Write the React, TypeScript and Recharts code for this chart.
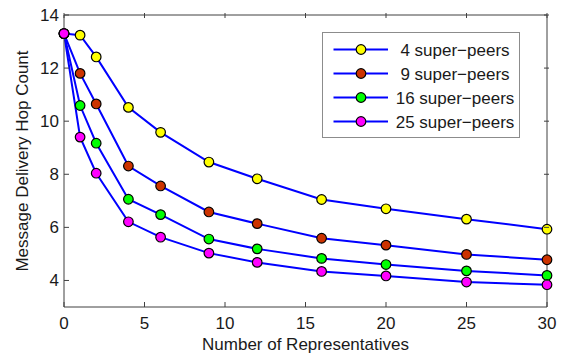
import React from 'react';
import { LineChart, Line, XAxis, YAxis, Label } from 'recharts';

// number of representatives (x)
const reps = [0, 1, 2, 4, 6, 9, 12, 16, 20, 25, 30];

// hop count per super-peer configuration
const peers4 = [13.3, 13.24, 12.42, 10.52, 9.58, 8.46, 7.83, 7.05, 6.7, 6.31, 5.93];
const peers9 = [13.3, 11.8, 10.65, 8.31, 7.56, 6.58, 6.14, 5.59, 5.33, 4.98, 4.78];
const peers16 = [13.3, 10.59, 9.17, 7.06, 6.48, 5.56, 5.19, 4.83, 4.6, 4.36, 4.19];
const peers25 = [13.3, 9.4, 8.04, 6.21, 5.63, 5.03, 4.68, 4.34, 4.17, 3.94, 3.84];

const seriesKeys = ['p4', 'p9', 'p16', 'p25'];
const seriesNames = ['4 super\u2212peers', '9 super\u2212peers', '16 super\u2212peers', '25 super\u2212peers'];
const markerColors = ['#ffff00', '#cc3300', '#00ff00', '#ff00ff'];

const xTicks = [0, 5, 10, 15, 20, 25, 30];
const yTicks = [4, 6, 8, 10, 12, 14];

const data = reps.map((r, i) => ({
  reps: r,
  p4: peers4[i],
  p9: peers9[i],
  p16: peers16[i],
  p25: peers25[i],
}));

const AXIS = '#404040';
const FONT = '"Liberation Sans", Arial, sans-serif';
const TEXT = '#1a1a1a';
const FS = 17;

const BottomTick = ({ x, y, payload }: any) => (
  <g>
    <line x1={x} x2={x} y1={y} y2={y - 5} stroke={AXIS} />
    <text x={x} y={y + 22} textAnchor="middle" fontSize={FS} fontFamily={FONT} fill={TEXT}>
      {payload.value}
    </text>
  </g>
);

const TopTick = ({ x, y }: any) => <line x1={x} x2={x} y1={y} y2={y + 5} stroke={AXIS} />;

const LeftTick = ({ x, y, payload }: any) => (
  <g>
    <line x1={x} x2={x + 5} y1={y} y2={y} stroke={AXIS} />
    <text x={x - 5} y={y + 6} textAnchor="end" fontSize={FS} fontFamily={FONT} fill={TEXT}>
      {payload.value}
    </text>
  </g>
);

const RightTick = ({ x, y }: any) => <line x1={x} x2={x - 5} y1={y} y2={y} stroke={AXIS} />;

const YTitle = ({ viewBox }: any) => {
  const { x, y, height } = viewBox;
  return (
    <text
      transform={`translate(${x + 22},${y + height / 2}) rotate(-90)`}
      textAnchor="middle"
      dominantBaseline="central"
      fontSize={FS}
      fontFamily={FONT}
      fill={TEXT}
    >
      Message Delivery Hop Count
    </text>
  );
};

function LegendBox() {
  return (
    <div
      style={{
        position: 'absolute',
        left: 322,
        top: 32,
        width: 196,
        height: 104,
        border: '1px solid #8c8c8c',
        background: '#fff',
      }}
    >
      <svg width={196} height={104}>
        {seriesNames.map((name, i) => {
          const cy = 16.5 + i * 24;
          return (
            <g key={name}>
              <line x1={10.5} x2={65} y1={cy} y2={cy} stroke="#0000ff" strokeWidth={2.2} />
              <circle cx={38} cy={cy} r={4.8} fill={markerColors[i]} stroke="#000" strokeWidth={1.2} />
              <text x={132} y={cy + 6} textAnchor="middle" fontSize={FS} fontFamily={FONT} fill={TEXT}>
                {name}
              </text>
            </g>
          );
        })}
      </svg>
    </div>
  );
}

export default function App() {
  return (
    <div style={{ position: 'absolute', left: 0, top: 0, width: 565, height: 354, background: '#fff' }}>
      <LineChart width={565} height={354} data={data} margin={{ top: 14, right: 17, bottom: 0, left: 0 }}>
        <XAxis
          dataKey="reps"
          type="number"
          domain={[0, 30]}
          ticks={xTicks}
          height={47}
          tickSize={0}
          tickMargin={0}
          stroke={AXIS}
          tick={<BottomTick />}
        >
          <Label
            value="Number of Representatives"
            position="insideBottom"
            offset={4}
            style={{ fontSize: FS, fontFamily: FONT, fill: TEXT }}
          />
        </XAxis>
        <XAxis
          xAxisId="top"
          orientation="top"
          dataKey="reps"
          type="number"
          domain={[0, 30]}
          ticks={xTicks}
          height={1}
          tickSize={0}
          stroke={AXIS}
          tick={<TopTick />}
        />
        <YAxis
          type="number"
          domain={[3, 14]}
          ticks={yTicks}
          width={64}
          tickSize={0}
          tickMargin={0}
          stroke={AXIS}
          tick={<LeftTick />}
        >
          <Label content={<YTitle />} />
        </YAxis>
        <YAxis
          yAxisId="right"
          orientation="right"
          type="number"
          domain={[3, 14]}
          ticks={yTicks}
          width={1}
          tickSize={0}
          stroke={AXIS}
          tick={<RightTick />}
        />
        {/* invisible series so the top/right box axes are drawn */}
        <Line
          xAxisId="top"
          yAxisId="right"
          dataKey="p4"
          stroke="none"
          dot={false}
          activeDot={false}
          legendType="none"
          isAnimationActive={false}
        />
        {seriesKeys.map((key, i) => (
          <Line
            key={key}
            type="linear"
            dataKey={key}
            name={seriesNames[i]}
            stroke="#0000ff"
            strokeWidth={2}
            dot={{ r: 4.8, fill: markerColors[i], stroke: '#000', strokeWidth: 1.2 }}
            activeDot={false}
            isAnimationActive={false}
          />
        ))}
      </LineChart>
      <LegendBox />
    </div>
  );
}
